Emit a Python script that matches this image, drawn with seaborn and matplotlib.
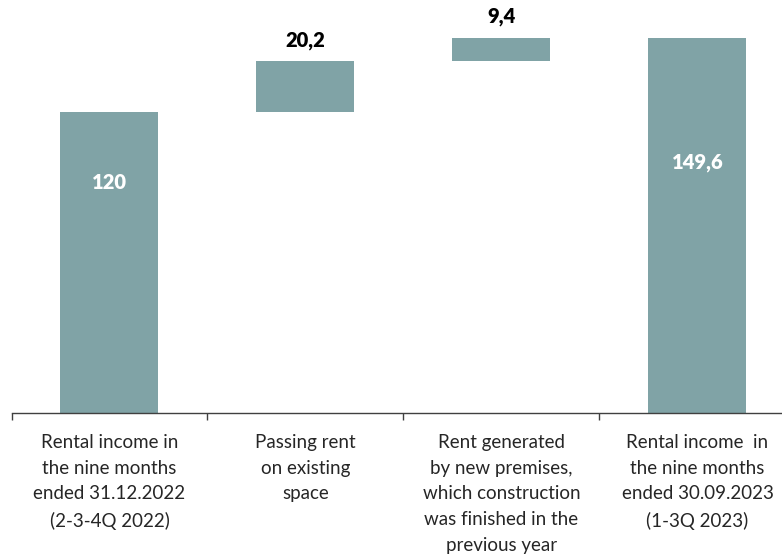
import matplotlib
matplotlib.use("Agg")
import matplotlib.pyplot as plt
import seaborn as sns
import pandas as pd

# chart data
categories = [
    "Rental income in\nthe nine months\nended 31.12.2022\n(2-3-4Q 2022)",
    "Passing rent\non existing\nspace",
    "Rent generated\nby new premises,\nwhich construction\nwas finished in the\nprevious year",
    "Rental income  in\nthe nine months\nended 30.09.2023\n(1-3Q 2023)",
]
bases = [0, 120, 140.2, 0]
deltas = [120, 20.2, 9.4, 149.6]
labels = ["120", "20,2", "9,4", "149,6"]
is_total = [True, False, False, True]

df = pd.DataFrame({"category": categories, "base": bases, "delta": deltas})

sns.set_theme(style="white")
plt.rcParams["font.family"] = ["Lato", "DejaVu Sans"]

fig = plt.figure(figsize=(7.82, 5.55), dpi=100)
# x axis runs a little past the right edge, like the original
ax = fig.add_axes([11.5 / 782, 142 / 555, 784 / 782, 413 / 555])

bar_color = "#80A3A6"
sns.barplot(data=df, x="category", y="delta", bottom=df["base"],
            color=bar_color, width=0.5, saturation=1, ax=ax,
            edgecolor="none", linewidth=0)

ax.set_xlim(-0.5, 3.5)
ax.set_ylim(0, 164.6)

for i, (b, d, lab, tot) in enumerate(zip(bases, deltas, labels, is_total)):
    if tot:
        y = 92 if i == 0 else 100
        ax.text(i, y, lab, ha="center", va="center", color="white",
                fontsize=14.5, fontweight="heavy")
    else:
        ax.text(i, b + d + 8.3, lab, ha="center", va="center", color="black",
                fontsize=14.5, fontweight="heavy")

# tick marks sit on the category boundaries
ax.set_xticks([-0.5, 0.5, 1.5, 2.5, 3.5])
ax.set_xticklabels([])
ax.set_xticks(range(4), minor=True)
ax.set_xticklabels(categories, minor=True, fontsize=13.5, color="#262626",
                   linespacing=1.62, va="top")
ax.tick_params(axis="x", which="major", direction="out", length=5,
               width=1, color="#404040", bottom=True)
ax.tick_params(axis="x", which="minor", length=0, pad=15)
ax.set_yticks([])
ax.set_xlabel("")
ax.set_ylabel("")

for side in ["top", "right", "left"]:
    ax.spines[side].set_visible(False)
ax.spines["bottom"].set_color("#404040")
ax.spines["bottom"].set_linewidth(1)

fig.savefig("out.png", dpi=100)
